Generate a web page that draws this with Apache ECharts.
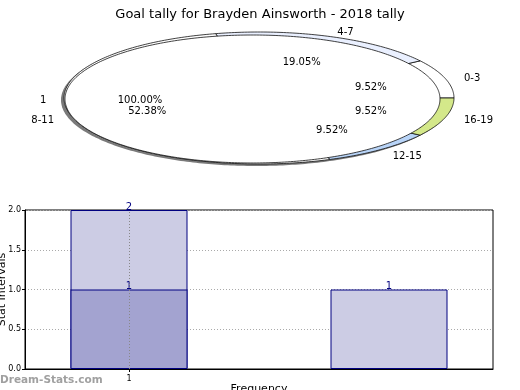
<!DOCTYPE html>
<html><head><meta charset="utf-8">
<script src="https://cdn.jsdelivr.net/npm/echarts@6/dist/echarts.min.js"></script>
<style>html,body{margin:0;padding:0;background:#fff}#c{width:520px;height:390px}</style>
</head><body><div id="c"></div>
<script>
// ---- data ----
const titleText = 'Goal tally for Brayden Ainsworth - 2018 tally';
const pieLabels = ['0-3', '4-7', '8-11', '12-15', '16-19'];
const pieValues = [2, 4, 11, 2, 2];
const pieColors = ['#ffffff', '#eaf0ff', '#ffffff', '#b8d4f8', '#d4e88a'];
const innerLabels = ['1'];
const innerValues = [1];
const barX = [1, 2];
const barDark = [1, 0];
const barLight = [1, 1];
const xTicks = [1];
const yAxisName = 'Stat Intervals';
const xAxisName = 'Frequency';
const watermark = 'Dream-Stats.com';

// ---- pie geometry (style) ----
const OUT = {cx: 259, cy: 98, a: 195, b: 66};
const INN = {cx: 252.5, cy: 99, a: 187.5, b: 64};
const FONT = 'DejaVu Sans';
const LABEL_DY = 1.5;

function ell(g, t, f) { return [g.cx + g.a * f * Math.cos(t), g.cy - g.b * f * Math.sin(t)]; }
function arc(g, a0, a1) {
  const n = Math.max(4, Math.ceil(Math.abs(a1 - a0) * 60));
  const pts = [];
  for (let k = 0; k <= n; k++) pts.push(ell(g, a0 + (a1 - a0) * k / n, 1));
  return pts;
}
function angles(vals) {
  const tot = vals.reduce((s, v) => s + v, 0);
  let c = 0;
  return vals.map(v => { const a0 = c / tot * 2 * Math.PI; c += v; return [a0, c / tot * 2 * Math.PI, v / tot]; });
}
const outAng = angles(pieValues);
const innAng = angles(innerValues);

function wedge(g, a) {
  const pts = arc(g, a[0], a[1]);
  if (a[2] < 0.9999) pts.unshift([g.cx, g.cy]);
  return pts;
}
function labelEls(g, a, name) {
  const mid = (a[0] + a[1]) / 2;
  const p1 = ell(g, mid, 1.1), p2 = ell(g, mid, 0.6);
  return [
    {type: 'text', style: {text: name, x: p1[0], y: p1[1] + LABEL_DY, fill: '#000', fontSize: 10, fontFamily: FONT,
      align: Math.cos(mid) > 0 ? 'left' : 'right', verticalAlign: 'middle'}},
    {type: 'text', style: {text: (a[2] * 100).toFixed(2) + '%', x: p2[0], y: p2[1] + LABEL_DY, fill: '#000', fontSize: 10,
      fontFamily: FONT, align: 'center', verticalAlign: 'middle'}}
  ];
}
// stacked totals for the light (upper) segment
const barTotal = barX.map((x, i) => barDark[i] + barLight[i]);

const chart = echarts.init(document.getElementById('c'));
chart.setOption({
  animation: false,
  backgroundColor: '#fff',
  title: {text: titleText, left: 'center', top: 3,
    textStyle: {fontSize: 13, fontWeight: 'normal', color: '#000', fontFamily: FONT}},
  graphic: [{type: 'text', left: 0, top: 375, style: {text: watermark, fill: '#a0a0a0', fontSize: 10.5,
    fontWeight: 'bold', fontFamily: FONT}}],
  grid: {left: 25, right: 27, top: 210, bottom: 21, show: true, borderColor: '#000', borderWidth: 1,
    containLabel: false, outerBoundsMode: 'none'},
  xAxis: {type: 'value', min: 0.6, max: 2.4, name: xAxisName, nameLocation: 'middle', nameGap: 15,
    nameMoveOverlap: false,
    nameTextStyle: {fontSize: 11, color: '#000', fontFamily: FONT},
    axisLine: {show: true, lineStyle: {color: '#000'}},
    axisTick: {show: true, customValues: xTicks, length: 3, lineStyle: {color: '#000'}},
    axisLabel: {customValues: xTicks, fontSize: 8, color: '#000', fontFamily: FONT, margin: 6},
    splitLine: {show: false}},
  yAxis: {type: 'value', min: 0, max: 2, interval: 0.5, name: yAxisName, nameLocation: 'middle', nameGap: 17,
    nameMoveOverlap: false,
    nameTextStyle: {fontSize: 11, color: '#000', fontFamily: FONT},
    axisLine: {show: true, lineStyle: {color: '#000'}},
    axisTick: {show: true, length: 3, lineStyle: {color: '#000'}},
    axisLabel: {fontSize: 8, color: '#000', fontFamily: FONT, margin: 4, formatter: v => v.toFixed(1)},
    splitLine: {show: true, lineStyle: {color: '#aaa', type: [1, 2], width: 1}}},
  series: [
    {type: 'custom', coordinateSystem: 'none', silent: true, z: 1, data: [0],
      renderItem: () => ({type: 'polygon',
        shape: {points: arc({cx: OUT.cx - 3, cy: OUT.cy + 2, a: OUT.a, b: OUT.b}, 0, 2 * Math.PI)},
        style: {fill: '#7a7a7a'}})},
    {type: 'custom', coordinateSystem: 'none', silent: true, z: 2, data: pieValues,
      renderItem: (p) => ({type: 'polygon', shape: {points: wedge(OUT, outAng[p.dataIndex])},
        style: {fill: pieColors[p.dataIndex], stroke: '#111', lineWidth: 0.8}})},
    {type: 'custom', coordinateSystem: 'none', silent: true, z: 3, data: innerValues,
      renderItem: (p) => ({type: 'polygon', shape: {points: wedge(INN, innAng[p.dataIndex])},
        style: {fill: '#ffffff', stroke: '#111', lineWidth: 0.8}})},
    {type: 'custom', coordinateSystem: 'none', silent: true, z: 4, data: innerValues,
      renderItem: (p) => ({type: 'group', children: labelEls(INN, innAng[p.dataIndex], innerLabels[p.dataIndex])})},
    {type: 'custom', coordinateSystem: 'none', silent: true, z: 4, data: pieValues,
      renderItem: (p) => ({type: 'group', children: labelEls(OUT, outAng[p.dataIndex], pieLabels[p.dataIndex])})},
    {type: 'bar', barWidth: 117, barGap: '-100%', data: barX.map((x, i) => [x, barTotal[i]]),
      itemStyle: {color: '#cccce4', borderColor: '#000080', borderWidth: 1},
      label: {show: true, position: 'top', distance: -2, color: '#000080', fontSize: 10, fontFamily: FONT,
        formatter: p => String(p.value[1])},
      markLine: {silent: true, symbol: 'none', label: {show: false}, z: 10,
        lineStyle: {color: '#888', type: [1, 2], width: 1},
        data: xTicks.map(t => ({xAxis: t}))}},
    {type: 'bar', barWidth: 117, barGap: '-100%', data: barX.map((x, i) => [x, barDark[i] || '-']),
      itemStyle: {color: '#a3a3d0', borderColor: '#000080', borderWidth: 1},
      label: {show: true, position: 'top', distance: -2, color: '#000080', fontSize: 10, fontFamily: FONT,
        formatter: p => String(p.value[1])}}
  ]
});
</script></body></html>
